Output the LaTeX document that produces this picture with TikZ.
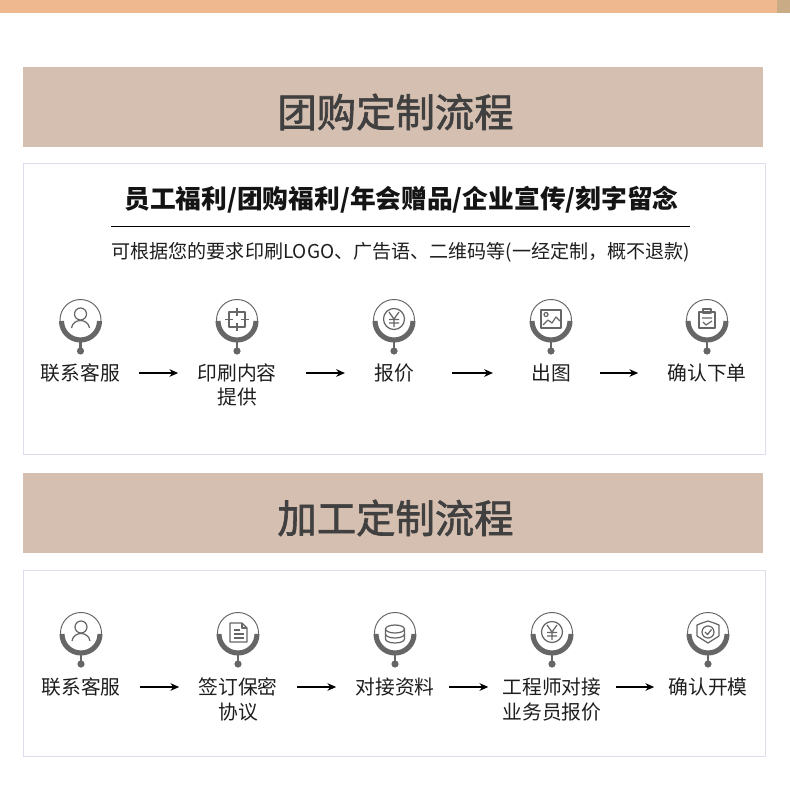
\documentclass[tikz,border=0pt]{standalone}
\usepackage{fontspec}
\setmainfont{Noto Sans CJK SC}
\newfontfamily\titlefont[FakeBold=1.6]{Noto Sans CJK SC}
\usepackage{xcolor}
\usetikzlibrary{arrows.meta}
\definecolor{bandtan}{HTML}{D5BFB0}
\definecolor{panelline}{HTML}{DDDDEE}
\definecolor{iconline}{HTML}{666666}
\definecolor{inkdark}{HTML}{1E1E1E}
\definecolor{stripedge}{HTML}{F0B88E}
\definecolor{stripmid}{HTML}{F9C59B}
\definecolor{stripend}{HTML}{C9AB86}

\tikzset{
  badge/.pic={
    \draw[iconline, line width=0.55pt] (0,-1) circle[radius=20.5];
    \draw[iconline, line width=2.9pt] (-19,0) arc[start angle=180, end angle=0, radius=19];
    \draw[iconline, line width=1.2pt] (0,21) -- (0,30);
    \fill[iconline] (0,30) circle[radius=3.6];
  },
  glyph/.style={iconline, line width=0.7pt, line join=round}
}

\begin{document}
\begin{tikzpicture}[
  x=0.02cm, y=-0.02cm,
  steplabel/.style={inner sep=0pt, text=inkdark, font=\fontsize{11.25}{14}\selectfont},
  title/.style={inner sep=0pt, text=black!75, font=\titlefont\fontsize{22.4}{26}\selectfont},
  headband/.style={fill=bandtan, draw=none},
  panel/.style={draw=panelline, fill=white, line width=0.5pt},
  arr/.style={-{Stealth[length=5pt, width=4.4pt]}, line width=0.6pt, black},
  gap/.style={shorten <=#1, shorten >=#1}
]
\useasboundingbox (0,0) rectangle (790,804);
\fill[white] (0,0) rectangle (790,804);

%% Top strip
\shade[left color=stripedge, middle color=stripmid, right color=stripedge]
  (0,0) rectangle (777,13);
\fill[stripend] (777,0) rectangle (790,13);

%% Group order section
\fill[headband] (23,67) rectangle (763,147);
\node[title] (head1) at (395.5,112) {团购定制流程};
\draw[panel] (23.5,163.5) rectangle (765.5,454.5);
\node[inner sep=0pt, font=\fontsize{14.65}{17}\selectfont\bfseries, text=black!92] (slogan) at (401.5,200)
  {员工福利/团购福利/年会赠品/企业宣传/刻字留念};
\draw[black, line width=0.85pt] (111,226.5) -- (690,226.5);
\node[inner sep=0pt, text=inkdark, font=\fontsize{10.85}{14}\selectfont] (note) at (401,252)
  {可根据您的要求印刷LOGO、广告语、二维码等(一经定制，概不退款)};

\pic at (80.5,321) {badge};
\pic at (237,321) {badge};
\pic at (394,321) {badge};
\pic at (551,321) {badge};
\pic at (707,321) {badge};

%% Icons, first row
\draw[glyph] (80.5,314) circle[radius=6];
\draw[glyph] (71.5,328) .. controls (73,318) and (88,318) .. (89.5,328);
\draw[glyph] (229,312) rectangle (245,327);
\draw[glyph] (237,308) -- (237,316) (237,323) -- (237,331) (225,319.5) -- (233,319.5) (241,319.5) -- (249,319.5);
\draw[glyph] (394,319) circle[radius=10.5];
\draw[glyph] (389,312) -- (394,319) -- (399,312) (394,319) -- (394,327) (389,319.5) -- (399,319.5) (389,323) -- (399,323);
\draw[glyph] (541,310) rectangle (561,328);
\draw[glyph] (546,314.5) circle[radius=2];
\draw[glyph] (543,325) -- (548,320) -- (552,323) -- (556,317) -- (560,321);
\draw[glyph] (699,312) rectangle (715,328);
\draw[glyph] (703,309) rectangle (711,313);
\draw[glyph] (702,318) -- (712,318) (703,322) -- (706,325) -- (712,321);

\node[steplabel] (kf1) at (80.5,373) {联系客服};
\node[steplabel] (yin) at (237,373) {印刷内容};
\node[steplabel] (yin2) at (237,397) {提供};
\node[steplabel] (bj) at (394,373) {报价};
\node[steplabel] (ct) at (551,373) {出图};
\node[steplabel] (qr) at (707,373) {确认下单};

\draw[arr, gap=0.38cm] (kf1) -- (yin);
\draw[arr, gap=0.58cm] (yin) -- (bj);
\draw[arr, gap=0.76cm] (bj) -- (ct);
\draw[arr, gap=0.58cm] (ct) -- (qr);

%% Custom processing section
\fill[headband] (23,473) rectangle (763,553);
\node[title] (head2) at (395.5,518) {加工定制流程};
\draw[panel] (23.5,570.5) rectangle (765.5,756.5);

\pic at (81,634) {badge};
\pic at (238,634) {badge};
\pic at (395,634) {badge};
\pic at (552,634) {badge};
\pic at (708,634) {badge};

%% Icons, second row
\draw[glyph] (81,627) circle[radius=6];
\draw[glyph] (72,641) .. controls (73.5,631) and (88.5,631) .. (90,641);
\draw[glyph] (230,623) -- (242,623) -- (247,628) -- (247,642) -- (230,642) -- cycle;
\draw[glyph] (242,623) -- (242,628) -- (247,628);
\draw[glyph] (233.5,630) -- (240,630) (233.5,634) -- (243.5,634) (233.5,638) -- (243.5,638);
\draw[glyph] (395,629) ellipse[x radius=9.5, y radius=4];
\draw[glyph] (385.5,629) -- (385.5,639) arc[start angle=180, end angle=0, x radius=9.5, y radius=4] -- (404.5,629);
\draw[glyph] (385.5,634) arc[start angle=180, end angle=0, x radius=9.5, y radius=4];
\draw[glyph] (552,632) circle[radius=10.5];
\draw[glyph] (547,625) -- (552,632) -- (557,625) (552,632) -- (552,640) (547,632.5) -- (557,632.5) (547,636) -- (557,636);
\draw[glyph] (702,623) -- (708,621) -- (714,623) -- (719,625) -- (719,636) -- (708,643) -- (697,636) -- (697,625) -- cycle;
\draw[glyph] (708,632) circle[radius=6];
\draw[glyph] (705,632) -- (707.5,634.5) -- (711.5,629.5);

\node[steplabel] (kf2) at (81,687) {联系客服};
\node[steplabel] (qy) at (238,687) {签订保密};
\node[steplabel] (qy2) at (238,712) {协议};
\node[steplabel] (dj) at (395,687) {对接资料};
\node[steplabel] (gc) at (552,687) {工程师对接};
\node[steplabel] (gc2) at (552,712) {业务员报价};
\node[steplabel] (qk) at (708,687) {确认开模};

\draw[arr, gap=0.38cm] (kf2) -- (qy);
\draw[arr, gap=0.38cm] (qy) -- (dj);
\draw[arr, gap=0.28cm] (dj) -- (gc);
\draw[arr, gap=0.28cm] (gc) -- (qk);
\end{tikzpicture}
\end{document}
